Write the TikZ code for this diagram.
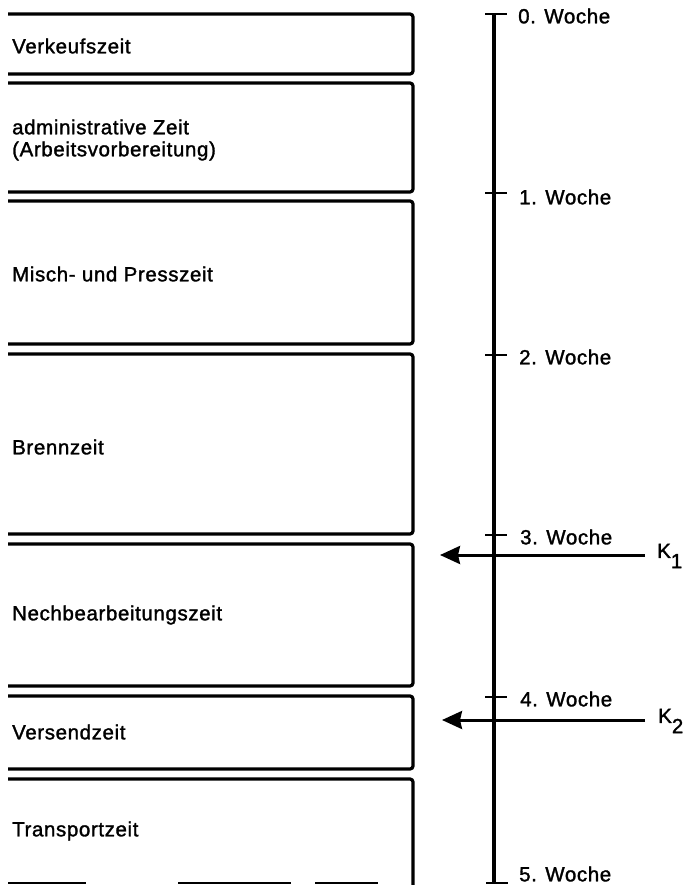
\documentclass[tikz,border=0pt]{standalone}
\usepackage{fontspec}
\setmainfont{Liberation Sans}[LetterSpace=3,FakeBold=1.5]
\usetikzlibrary{arrows.meta}
\tikzset{
  boxline/.style={line width=3.2pt, rounded corners=3pt},
  lbl/.style={anchor=west, inner sep=0pt, font=\fontsize{20.5}{22}\selectfont, align=left},
  wk/.style={anchor=west, inner sep=0pt, font=\fontsize{20.5}{22}\selectfont},
  axisline/.style={line width=3.2pt},
  tick/.style={line width=2.8pt},
  karrow/.style={line width=3pt, -{Stealth[length=20pt,width=18pt,inset=2pt]}},
}
\begin{document}
\begin{tikzpicture}[x=1pt,y=-1pt]
\useasboundingbox (0,0) rectangle (685,885);
% boxes
\foreach \t/\b in {14/74, 83/192, 201/344, 354/534, 544/686, 696/769}{
  \draw[boxline] (8,\t) -- (413,\t) -- (413,\b) -- (8,\b);
}
\draw[boxline] (8,779) -- (413,779) -- (413,885);
\draw[line width=2pt, dash pattern=on 78pt off 92pt on 113pt off 24pt on 63pt] (8,883) -- (390,883);
% box labels
\node[lbl] (verk) at (12,46) {Verkeufszeit};
\node[lbl] (admin) at (12,140) {administrative Zeit\\(Arbeitsvorbereitung)};
\node[lbl] (misch) at (12,274) {Misch- und Presszeit};
\node[lbl] (brenn) at (12,447) {Brennzeit};
\node[lbl] (nach) at (12,615) {Nechbearbeitungszeit};
\node[lbl] (vers) at (12,732) {Versendzeit};
\node[lbl] (trans) at (12,831) {Transportzeit};
% time axis
\coordinate (atop) at (494,14);
\coordinate (abot) at (494,883);
\draw[axisline] (atop) -- (abot);
\draw[tick] (485,14) -- (507,14);
\draw[tick] (486,883) -- (508,883);
\foreach \y in {193,355,535,697}{
  \draw[tick] (485,\y) -- (507,\y);
}
\node[wk] (w0) at (518,16) {0. Woche};
\node[wk] (w1) at (519,197) {1. Woche};
\node[wk] (w2) at (519,357) {2. Woche};
\node[wk] (w3) at (520,537) {3. Woche};
\node[wk] (w4) at (520,699) {4. Woche};
\node[wk] (w5) at (519,874) {5. Woche};
% K arrows
\node[wk] (k1) at (657,556) {K\raisebox{-0.5em}{1}};
\node[wk] (k2) at (658,721) {K\raisebox{-0.5em}{2}};
\coordinate (t1) at (440,555);
\coordinate (t2) at (442,720);
\draw[karrow] (645,555) -- (t1);
\draw[karrow] (645,720) -- (t2);
\end{tikzpicture}
\end{document}
